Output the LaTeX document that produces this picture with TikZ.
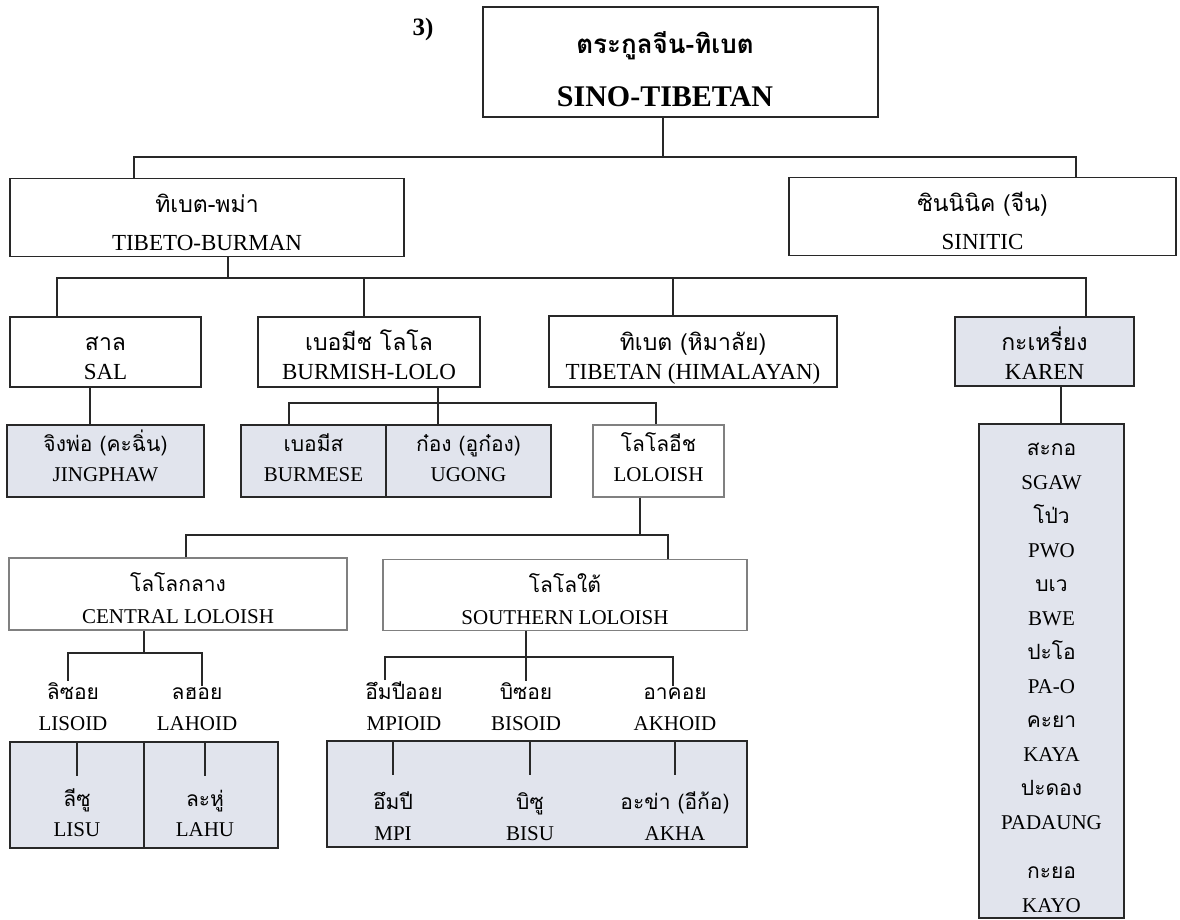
\documentclass[tikz,border=0pt]{standalone}
\usepackage{fontspec}
\setmainfont{Liberation Serif}
\newfontfamily\thai[Script=Thai]{Loma}
\definecolor{shadec}{RGB}{225,228,237}
\definecolor{edgec}{RGB}{40,40,40}
\newcommand\bil[2]{{\thai #1}\\#2}
\begin{document}
\begin{tikzpicture}[x=1pt,y=-1pt,
  txt/.style={font=\fontsize{21}{31}\selectfont, align=center, inner sep=1pt},
  box/.style={align=center, draw=edgec, line width=1.2pt, fill=white, inner sep=0pt},
  lbox/.style={box, draw=black!50},
  sbox/.style={box, fill=shadec},
  Lone/.style={font=\fontsize{23}{38}\selectfont, text height=72pt, text depth=6pt},
  Ltwo/.style={font=\fontsize{23}{29}\selectfont, text height=61pt, text depth=6pt},
  Lthree/.style={font=\fontsize{21}{30}\selectfont, text height=46pt, text depth=6pt},
  Lfour/.style={font=\fontsize{21}{32}\selectfont, text height=65pt, text depth=6pt},
  conn/.style={line width=1.7pt, draw=edgec},
  inner/.style={line width=1.4pt, draw=edgec}]
\useasboundingbox (0,0) rectangle (1180,920);
% level 0
\node[font=\bfseries\fontsize{25}{30}\selectfont, inner sep=0pt] (num) at (423,29) {3)};
\node[box, line width=2.6pt, minimum width=395pt, minimum height=110pt] (top) at (680.5,62) {};
\node[anchor=base, align=center, inner sep=0pt, font=\bfseries\fontsize{30}{53}\selectfont] (toptxt) at (665,107)
      {{\fontsize{26}{53}\selectfont\thai\bfseries ตระกูลจีน-ทิเบต}\\SINO-TIBETAN};
% level 1
\node[box, Lone, minimum width=394pt, minimum height=77pt] (tb) at (207,217.5) {\bil{ทิเบต-พม่า}{TIBETO-BURMAN}};
\node[box, Lone, minimum width=387pt, minimum height=77pt] (sin) at (982.5,216.5) {\bil{ซินนินิค (จีน)}{SINITIC}};
% level 2
\node[box, Ltwo, minimum width=191pt, minimum height=70pt] (sal) at (105.5,352) {\bil{สาล}{SAL}};
\node[box, Ltwo, minimum width=222pt, minimum height=70pt] (bur) at (369,352) {\bil{เบอมีช โลโล}{BURMISH-LOLO}};
\node[box, Ltwo, minimum width=288pt, minimum height=71pt] (tib) at (693,351.5) {\bil{ทิเบต (หิมาลัย)}{TIBETAN (HIMALAYAN)}};
\node[sbox, Ltwo, minimum width=179pt, minimum height=69pt] (kar) at (1044.5,351.5) {\bil{กะเหรี่ยง}{KAREN}};
% level 3
\node[sbox, Lthree, minimum width=197pt, minimum height=72pt] (jing) at (105.5,461) {\bil{จิงพ่อ (คะฉิ่น)}{JINGPHAW}};
\node[sbox, Lthree, minimum width=145pt, minimum height=72pt] (burm) at (313.5,461) {\bil{เบอมีส}{BURMESE}};
\node[sbox, Lthree, minimum width=165pt, minimum height=72pt] (ugong) at (468.5,461) {\bil{ก๋อง (อูก๋อง)}{UGONG}};
\node[lbox, Lthree, minimum width=131pt, minimum height=72pt] (lol) at (658.5,461) {\bil{โลโลอีช}{LOLOISH}};
% Karen list
\node[sbox, font=\fontsize{21}{34}\selectfont, text height=488pt, text depth=6pt,
      minimum width=145pt, minimum height=492pt] (kl) at (1051.5,671)
  {{\thai สะกอ}\\SGAW\\{\thai โป่ว}\\PWO\\{\thai บเว}\\BWE\\{\thai ปะโอ}\\PA-O\\{\thai คะยา}\\KAYA\\{\thai ปะดอง}\\PADAUNG\\[15pt]{\thai กะยอ}\\KAYO};
% level 4
\node[lbox, Lfour, minimum width=338pt, minimum height=72pt] (cen) at (178,594) {\bil{โลโลกลาง}{CENTRAL LOLOISH}};
\node[lbox, Lfour, minimum width=364pt, minimum height=70pt] (sou) at (565,595) {\bil{โลโลใต้}{SOUTHERN LOLOISH}};
% level 5 labels
\node[txt, anchor=base] (lisoid) at (73,730) {\bil{ลิซอย}{LISOID}};
\node[txt, anchor=base] (lahoid) at (197,730) {\bil{ลฮอย}{LAHOID}};
\node[txt, anchor=base] (mpioid) at (404,730) {\bil{อึมปีออย}{MPIOID}};
\node[txt, anchor=base] (bisoid) at (526,730) {\bil{บิซอย}{BISOID}};
\node[txt, anchor=base] (akhoid) at (675,730) {\bil{อาคอย}{AKHOID}};
% bottom boxes
\node[sbox, minimum width=134pt, minimum height=106pt] (lisubox) at (77,795) {};
\node[sbox, minimum width=134pt, minimum height=106pt] (lahubox) at (211,795) {};
\node[sbox, minimum width=420pt, minimum height=106pt] (mpibox) at (537,794) {};
\node[txt, anchor=base, font=\fontsize{21}{30}\selectfont] (lisu) at (77,836) {\bil{ลีซู}{LISU}};
\node[txt, anchor=base, font=\fontsize{21}{30}\selectfont] (lahu) at (205,836) {\bil{ละหู่}{LAHU}};
\node[txt, anchor=base, font=\fontsize{21}{31}\selectfont] (mpi) at (393,840) {\bil{อึมปี}{MPI}};
\node[txt, anchor=base, font=\fontsize{21}{31}\selectfont] (bisu) at (530,840) {\bil{บิซู}{BISU}};
\node[txt, anchor=base, font=\fontsize{21}{31}\selectfont] (akha) at (675,840) {\bil{อะข่า (อีก้อ)}{AKHA}};
% junction coordinates
\coordinate (j0) at (663,157); \coordinate (j0l) at (134,157); \coordinate (j0r) at (1076,157);
\coordinate (j1) at (228,278); \coordinate (j1l) at (57,278); \coordinate (j1r) at (1086,278);
\coordinate (j1b) at (364,278); \coordinate (j1t) at (673,278);
\coordinate (k1) at (90,400);
\coordinate (j2) at (438,403); \coordinate (j2l) at (289,403); \coordinate (j2r) at (656,403);
\coordinate (j3) at (640,535); \coordinate (j3l) at (186,535); \coordinate (j3r) at (668,535);
\coordinate (j4) at (144,653); \coordinate (j4l) at (68,653); \coordinate (j4r) at (202,653);
\coordinate (j5) at (526,657); \coordinate (j5l) at (385,657); \coordinate (j5r) at (673,657);
\coordinate (k2) at (1061,400);
% connectors
\draw[conn] (j0 |- top.south) -- (j0);
\draw[conn] (tb.north -| j0l) -- (j0l) -- (j0r) -- (sin.north -| j0r);
\draw[conn] (j1 |- tb.south) -- (j1);
\draw[conn] (sal.north -| j1l) -- (j1l) -- (j1r) -- (kar.north -| j1r);
\draw[conn] (j1b) -- (bur.north -| j1b);
\draw[conn] (j1t) -- (tib.north -| j1t);
\draw[conn] (k1 |- sal.south) -- (k1 |- jing.north);
\draw[conn] (j2 |- bur.south) -- (j2 |- ugong.north);
\draw[conn] (burm.north -| j2l) -- (j2l) -- (j2r) -- (lol.north -| j2r);
\draw[conn] (j3 |- lol.south) -- (j3);
\draw[conn] (cen.north -| j3l) -- (j3l) -- (j3r) -- (sou.north -| j3r);
\draw[conn] (j4 |- cen.south) -- (j4);
\draw[conn] (lisoid.north -| j4l) -- (j4l) -- (j4r) -- (lahoid.north -| j4r);
\draw[conn] (j5 |- sou.south) -- (j5 |- bisoid.north);
\draw[conn] (mpioid.north -| j5l) -- (j5l) -- (j5r) -- (akhoid.north -| j5r);
\draw[conn] (k2 |- kar.south) -- (k2 |- kl.north);
\draw[inner] (lisu |- lisubox.north) -- ++(0,35);
\draw[inner] (lahu |- lahubox.north) -- ++(0,35);
\draw[inner] (mpi |- mpibox.north) -- ++(0,35);
\draw[inner] (bisu |- mpibox.north) -- ++(0,35);
\draw[inner] (akha |- mpibox.north) -- ++(0,35);
\end{tikzpicture}
\end{document}
